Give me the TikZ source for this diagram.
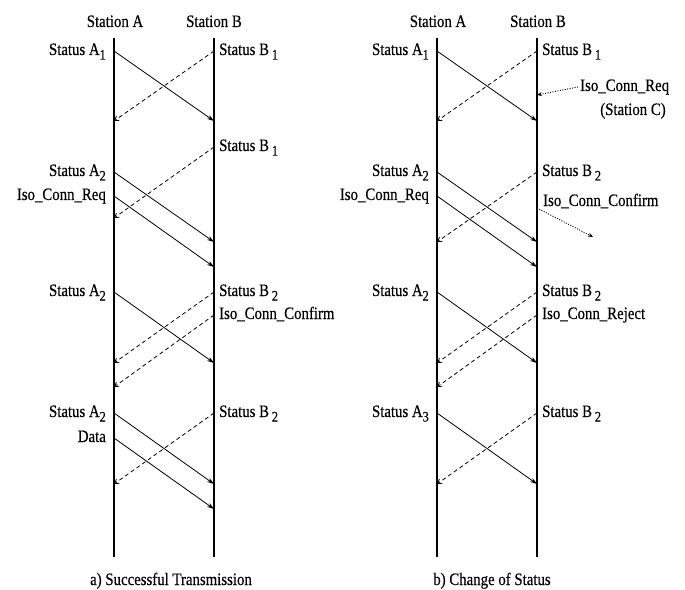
\documentclass[tikz,border=0pt]{standalone}
\usepackage{fontspec}
\setmainfont{Liberation Serif}[FakeStretch=0.85,FakeBold=0.4]
\usetikzlibrary{arrows.meta}
\newcommand{\lowsub}[1]{\raisebox{-4.5bp}{\fontsize{14.5}{14.5}\selectfont #1}}
\begin{document}
\begin{tikzpicture}[x=1bp,y=-1bp,
  every node/.style={font=\fontsize{17.5}{20}\selectfont, inner sep=0pt},
  life/.style={line width=1.1bp},
  msg/.style={line width=0.8bp,-{Stealth[length=7bp,width=4.5bp]}},
  ack/.style={line width=0.8bp,dash pattern=on 4bp off 3bp,-{Straight Barb[length=4bp,width=5bp]}},
  ext/.style={line width=0.9bp,dash pattern=on 1bp off 1.5bp,-{Stealth[length=5bp,width=4bp]}},
  lA/.style={anchor=base east},
  lB/.style={anchor=base west}]
\useasboundingbox (0,0) rectangle (685,590);

% lifeline coordinates
\coordinate (LAt) at (114,38); \coordinate (LAb) at (114,557);
\coordinate (LBt) at (214,38); \coordinate (LBb) at (214,557);
\coordinate (RAt) at (437,38); \coordinate (RAb) at (437,557);
\coordinate (RBt) at (537,38); \coordinate (RBb) at (537,557);
\foreach \y in {51,95,121,147,172,196,208,218,242,267,292,315,363,387,413,438,484,509}{
  \coordinate (LA\y) at (114,\y);
  \coordinate (LB\y) at (214,\y);
  \coordinate (RA\y) at (437,\y);
  \coordinate (RB\y) at (537,\y);
}
\draw[life] (LAt) -- (LAb);
\draw[life] (LBt) -- (LBb);
\draw[life] (RAt) -- (RAb);
\draw[life] (RBt) -- (RBb);

% headers
\node[anchor=base] (hLA) at (115,27) {Station A};
\node[anchor=base] (hLB) at (214,27) {Station B};
\node[anchor=base] (hRA) at (438,27) {Station A};
\node[anchor=base] (hRB) at (538,27) {Station B};

% ---------- left panel ----------
\draw[msg] (LA51) -- (LB121);
\draw[msg] (LA172) -- (LB242);
\draw[msg] (LA196) -- (LB267);
\draw[msg] (LA292) -- (LB363);
\draw[msg] (LA413) -- (LB484);
\draw[msg] (LA438) -- (LB509);
\draw[ack] (LB51) -- (LA121);
\draw[ack] (LB147) -- (LA218);
\draw[ack] (LB292) -- (LA363);
\draw[ack] (LB315) -- (LA387);
\draw[ack] (LB413) -- (LA484);

\node[lA] (la1) at (106,55) {Status A\lowsub{1}};
\node[lA] (la2) at (106,176) {Status A\lowsub{2}};
\node[lA] (la3) at (106,200) {Iso\_Conn\_Req};
\node[lA] (la4) at (106,296) {Status A\lowsub{2}};
\node[lA] (la5) at (106,417) {Status A\lowsub{2}};
\node[lA] (la6) at (106,442) {Data};
\node[lB] (lb1) at (219,55) {Status B\,\lowsub{1}};
\node[lB] (lb2) at (219,151) {Status B\,\lowsub{1}};
\node[lB] (lb3) at (219,296) {Status B\,\lowsub{2}};
\node[lB] (lb4) at (219,319) {Iso\_Conn\_Confirm};
\node[lB] (lb5) at (219,417) {Status B\,\lowsub{2}};
\node[anchor=base] (capA) at (171,585) {a) Successful Transmission};

% ---------- right panel ----------
\draw[msg] (RA51) -- (RB121);
\draw[msg] (RA172) -- (RB242);
\draw[msg] (RA196) -- (RB267);
\draw[msg] (RA292) -- (RB363);
\draw[msg] (RA413) -- (RB484);
\draw[ack] (RB51) -- (RA121);
\draw[ack] (RB172) -- (RA242);
\draw[ack] (RB292) -- (RA363);
\draw[ack] (RB315) -- (RA387);
\draw[ack] (RB413) -- (RA484);

\node[lA] (ra1) at (429,55) {Status A\lowsub{1}};
\node[lA] (ra2) at (429,176) {Status A\lowsub{2}};
\node[lA] (ra3) at (429,200) {Iso\_Conn\_Req};
\node[lA] (ra4) at (429,296) {Status A\lowsub{2}};
\node[lA] (ra5) at (429,417) {Status A\lowsub{3}};
\node[lB] (rb1) at (542,55) {Status B\,\lowsub{1}};
\node[lB] (rb2) at (542,176) {Status B\,\lowsub{2}};
\node[lB] (rb3) at (543,206) {Iso\_Conn\_Confirm};
\node[lB] (rb4) at (542,296) {Status B\,\lowsub{2}};
\node[lB] (rb5) at (542,319) {Iso\_Conn\_Reject};
\node[lB] (rb6) at (542,417) {Status B\,\lowsub{2}};

\node[lB] (creq) at (580,91) {Iso\_Conn\_Req};
\node[anchor=base] (cst) at (633,115) {(Station C)};
\coordinate (creqS) at (578,87);
\coordinate (cconfE) at (593,237);
\draw[ext] (creqS) -- (RB95);
\draw[ext] (RB208) -- (cconfE);

\node[anchor=base] (capB) at (492,585) {b) Change of Status};
\end{tikzpicture}
\end{document}
